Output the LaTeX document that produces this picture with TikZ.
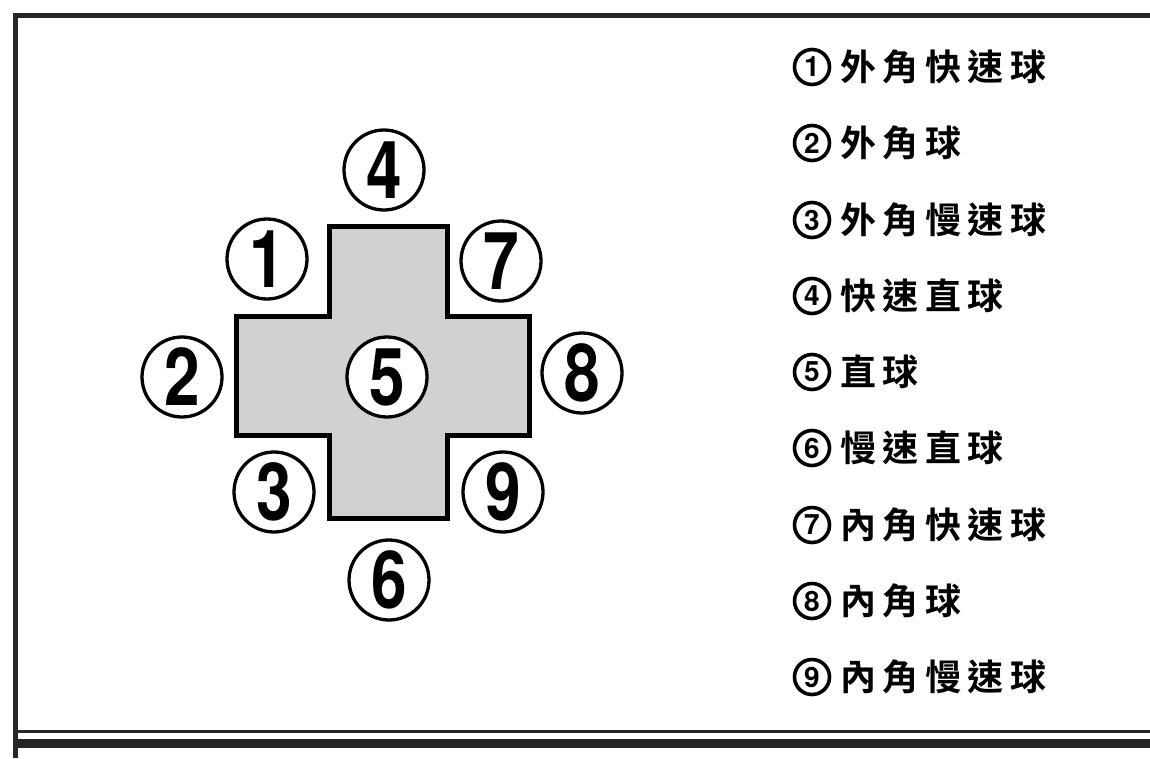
\documentclass[tikz,border=0pt]{standalone}
\usepackage{fontspec}
\usepackage{graphicx}
\newfontfamily\cjk{Noto Sans CJK TC}[BoldFont={* Bold}, LetterSpace=18]
\newfontfamily\digitfont{TeX Gyre Heros}
\begin{document}
\begin{tikzpicture}[x=1pt, y=-1pt,
  circ/.style={circle, draw, fill=white, line width=3.3pt, minimum size=80pt, inner sep=0pt,
    font=\digitfont\bfseries\fontsize{80}{80}\selectfont},
  num/.style={circle, draw, line width=3.6pt, minimum size=35pt, inner sep=0pt,
    font=\digitfont\bfseries\fontsize{28}{28}\selectfont},
  item/.style={anchor=west, inner sep=0pt, text height=31.7pt, text depth=4.3pt,
    font=\cjk\bfseries\fontsize{36}{36}\selectfont},
  frameline/.style={draw=black!85}]
\useasboundingbox (0,0) rectangle (1150,758);
\fill[white] (0,0) rectangle (1150,758);
% frame
\draw[frameline, line width=4.5pt] (15.5,758) -- (15.5,15.5) -- (1150,15.5);
\draw[frameline, line width=3pt] (15.5,731.5) -- (1150,731.5);
\draw[frameline, line width=9pt] (15.5,743) -- (1150,743);
% cross
\draw[line width=5pt, fill=black!18, line join=miter]
  (329,226) -- (447,226) -- (447,316) -- (529,316) -- (529,435) -- (447,435)
  -- (447,518) -- (329,518) -- (329,435) -- (236,435) -- (236,316) -- (329,316) -- cycle;
% zone circles
\node[circ] (c4) at (384,170) {\scalebox{0.8}[1]{4}};
\node[circ] (c1) at (267,259) {\scalebox{0.8}[1]{1}};
\node[circ] (c7) at (501,261) {\scalebox{0.8}[1]{7}};
\node[circ] (c2) at (182,377) {\scalebox{0.8}[1]{2}};
\node[circ] (c5) at (387,377) {\scalebox{0.8}[1]{5}};
\node[circ] (c8) at (582,373) {\scalebox{0.8}[1]{8}};
\node[circ] (c3) at (274,492) {\scalebox{0.8}[1]{3}};
\node[circ] (c9) at (503,492) {\scalebox{0.8}[1]{9}};
\node[circ] (c6) at (389,580) {\scalebox{0.8}[1]{6}};
% legend
\node[num] (n1) at (812,67)  {1};
\node[num] (n2) at (812,143) {2};
\node[num] (n3) at (812,220) {3};
\node[num] (n4) at (812,296) {4};
\node[num] (n5) at (812,372) {5};
\node[num] (n6) at (812,448) {6};
\node[num] (n7) at (812,525) {7};
\node[num] (n8) at (812,601) {8};
\node[num] (n9) at (812,677) {9};
\node[item] (l1) at (840,67)  {外角快速球};
\node[item] (l2) at (840,143) {外角球};
\node[item] (l3) at (840,220) {外角慢速球};
\node[item] (l4) at (840,296) {快速直球};
\node[item] (l5) at (840,372) {直球};
\node[item] (l6) at (840,448) {慢速直球};
\node[item] (l7) at (840,525) {內角快速球};
\node[item] (l8) at (840,601) {內角球};
\node[item] (l9) at (840,677) {內角慢速球};
\end{tikzpicture}
\end{document}
